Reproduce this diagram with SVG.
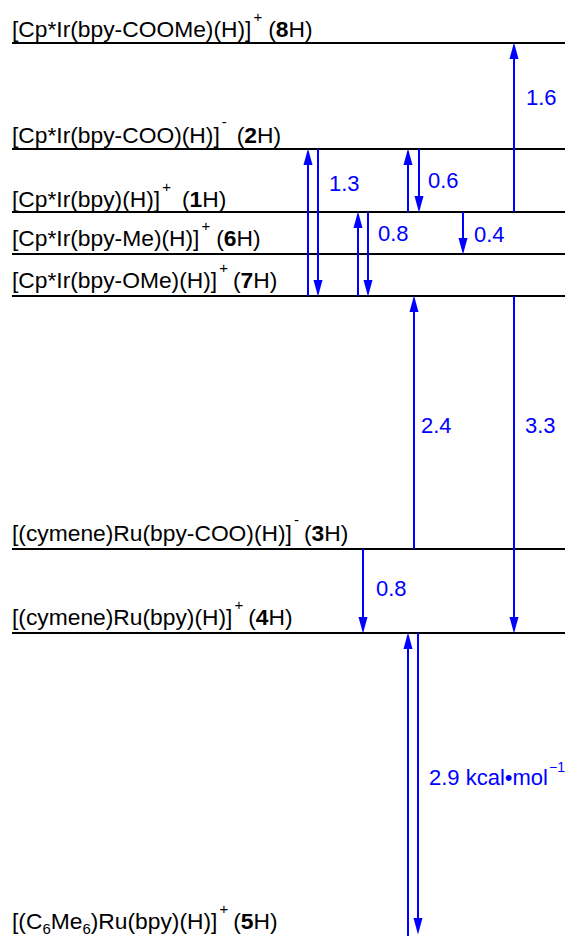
<svg xmlns="http://www.w3.org/2000/svg" width="569" height="936" viewBox="0 0 569 936">
<style>
text{font-family:"Liberation Sans",Arial,sans-serif;font-size:22.8px;fill:#000}
.b{font-weight:bold}
.sup{font-size:15px}
.sub{font-size:15px}
.lvl{stroke:#000;stroke-width:2.2}
.arr{stroke:#0000ff;stroke-width:2;fill:none;marker-end:url(#ah)}
text.v{fill:#0000ff;font-size:22px}
text.v .sup{font-size:14px}
</style>
<defs>
<marker id="ah" markerUnits="userSpaceOnUse" markerWidth="17" markerHeight="10" viewBox="0 0 17 10" refX="6" refY="5" orient="auto">
<path d="M0,0.5 L16.5,5 L0,9.5 z" fill="#0000ff"/>
</marker>
</defs>
<rect width="569" height="936" fill="#fff"/>
<g id="levels">
<g id="n8H"><line class="lvl" x1="12" y1="43" x2="565" y2="43"/><text x="12" y="37">[Cp*Ir(bpy-COOMe)(H)]<tspan class="sup" dx="2" dy="-15">+</tspan><tspan dx="6" dy="15">(</tspan><tspan class="b">8</tspan>H)</text></g>
<g id="n2H"><line class="lvl" x1="12" y1="149" x2="565" y2="149"/><text x="12" y="143">[Cp*Ir(bpy-COO)(H)]<tspan class="sup" dx="2" dy="-16">-</tspan><tspan dx="10" dy="16">(</tspan><tspan class="b">2</tspan>H)</text></g>
<g id="n1H"><line class="lvl" x1="12" y1="212" x2="565" y2="212"/><text x="12" y="207">[Cp*Ir(bpy)(H)]<tspan class="sup" dx="2" dy="-15">+</tspan><tspan dx="11" dy="15">(</tspan><tspan class="b">1</tspan>H)</text></g>
<g id="n6H"><line class="lvl" x1="12" y1="254" x2="565" y2="254"/><text x="12" y="246">[Cp*Ir(bpy-Me)(H)]<tspan class="sup" dx="2" dy="-15">+</tspan><tspan dx="6" dy="15">(</tspan><tspan class="b">6</tspan>H)</text></g>
<g id="n7H"><line class="lvl" x1="12" y1="296" x2="565" y2="296"/><text x="12" y="288">[Cp*Ir(bpy-OMe)(H)]<tspan class="sup" dx="2" dy="-15">+</tspan><tspan dx="5" dy="15">(</tspan><tspan class="b">7</tspan>H)</text></g>
<g id="n3H"><line class="lvl" x1="12" y1="549" x2="565" y2="549"/><text x="12" y="541">[(cymene)Ru(bpy-COO)(H)]<tspan class="sup" dx="2" dy="-16">-</tspan><tspan dx="5" dy="16">(</tspan><tspan class="b">3</tspan>H)</text></g>
<g id="n4H"><line class="lvl" x1="12" y1="633" x2="565" y2="633"/><text x="12" y="625">[(cymene)Ru(bpy)(H)]<tspan class="sup" dx="2" dy="-15">+</tspan><tspan dx="5" dy="15">(</tspan><tspan class="b">4</tspan>H)</text></g>
<g id="n5H"><text x="12" y="929">[(C<tspan class="sub" dy="5">6</tspan><tspan dy="-5">Me</tspan><tspan class="sub" dy="5">6</tspan><tspan dy="-5">)Ru(bpy)(H)]</tspan><tspan class="sup" dx="2" dy="-15">+</tspan><tspan dx="5" dy="15">(</tspan><tspan class="b">5</tspan>H)</text></g>
</g>
<g id="connectors">
<line class="arr" x1="308" y1="296" x2="308" y2="159"/>
<line class="arr" x1="318" y1="149" x2="318" y2="286"/>
<line class="arr" x1="358" y1="296" x2="358" y2="222"/>
<line class="arr" x1="368" y1="212" x2="368" y2="286"/>
<line class="arr" x1="408" y1="212" x2="408" y2="159"/>
<line class="arr" x1="419" y1="149" x2="419" y2="202"/>
<line class="arr" x1="463" y1="212" x2="463" y2="244"/>
<line class="arr" x1="514" y1="212" x2="514" y2="53"/>
<line class="arr" x1="414" y1="549" x2="414" y2="306"/>
<line class="arr" x1="514" y1="296" x2="514" y2="623"/>
<line class="arr" x1="363" y1="549" x2="363" y2="623"/>
<line class="arr" x1="408" y1="936" x2="408" y2="643"/>
<line class="arr" x1="418" y1="633" x2="418" y2="924"/>
</g>
<g id="labels">
<text class="v" x="329" y="191">1.3</text>
<text class="v" x="428" y="188">0.6</text>
<text class="v" x="378" y="241">0.8</text>
<text class="v" x="474" y="242">0.4</text>
<text class="v" x="526" y="105">1.6</text>
<text class="v" x="421" y="433">2.4</text>
<text class="v" x="525" y="433">3.3</text>
<text class="v" x="376" y="596">0.8</text>
<text class="v" x="429" y="785">2.9 kcal•mol<tspan class="sup" dx="1" dy="-13">−1</tspan></text>
</g>
</svg>
